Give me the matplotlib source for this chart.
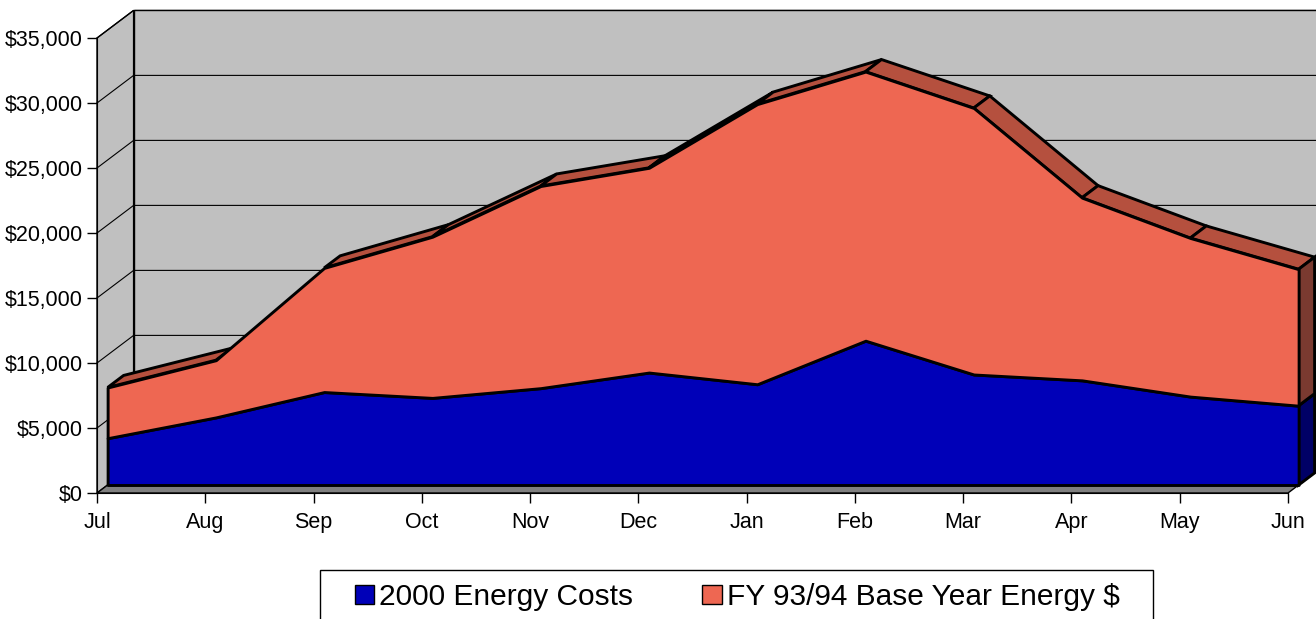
import matplotlib.pyplot as plt
import numpy as np
from matplotlib.patches import Patch, Polygon, Rectangle

plt.rcParams["font.family"] = ["Liberation Sans", "DejaVu Sans"]

months = ["Jul", "Aug", "Sep", "Oct", "Nov", "Dec", "Jan", "Feb", "Mar", "Apr", "May", "Jun"]
costs_2000 = [3600, 5200, 7150, 6700, 7450, 8650, 7750, 11100, 8500, 8050, 6800, 6100]
base_year = [3900, 4400, 9550, 12400, 15550, 15750, 21550, 20700, 20500, 14050, 12200, 10500]
y_ticks = np.arange(0, 35001, 5000)
y_labels = [f"${v:,}" for v in y_ticks]
series_names = ["2000 Energy Costs", "FY 93/94 Base Year Energy $"]

W, H = 1316, 619
fig = plt.figure(figsize=(W / 100, H / 100), dpi=100)
ax = fig.add_axes([97 / W, 1 - 493 / H, 1191 / W, 455 / H])
n = len(months)
ax.set_xlim(0, n - 1)
ax.set_ylim(0, y_ticks[-1])
ax.patch.set_visible(False)
for side in ["top", "right"]:
    ax.spines[side].set_visible(False)
ax.set_xticks(range(n), months)
ax.set_yticks(y_ticks, y_labels)
ax.tick_params(direction="out", length=7, width=1, labelsize=15.5)
ax.tick_params(axis="x", pad=7)
ax.tick_params(axis="y", pad=3)

# oblique "3-D" depth offset in data units (36.6 px right, 27.6 px up)
px_x = 1191 / (n - 1)
px_y = 455 / y_ticks[-1]
DX = 36.6 / px_x
DY = 27.6 / px_y
F1, F2 = 0.29, 0.727  # front / back of the area slab
top = y_ticks[-1]
last = n - 1
LW = 2.1


def pt(x, v, f):
    return (x + f * DX, v + f * DY)


def poly(points, fc, lw, z):
    ax.add_patch(Polygon(points, closed=True, facecolor=fc, edgecolor="black",
                         linewidth=lw, zorder=z, clip_on=False))


# walls and floor
poly([pt(0, 0, 1), pt(last, 0, 1), pt(last, top, 1), pt(0, top, 1)], "#C0C0C0", 1.0, 1)
poly([pt(0, 0, 0), pt(0, 0, 1), pt(0, top, 1), pt(0, top, 0)], "#C0C0C0", 1.0, 1)
poly([pt(0, 0, 0), pt(last, 0, 0), pt(last, 0, 1), pt(0, 0, 1)], "#808080", 1.0, 1)
for v in y_ticks[1:]:
    ax.plot([0, DX, last + DX], [v, v + DY, v + DY], color="black", lw=0.8,
            zorder=2, clip_on=False)

blue = np.array(costs_2000, dtype=float)
total = blue + np.array(base_year, dtype=float)
x = np.arange(n)

# top strips of the stacked area (only the ones facing the viewer)
for i in range(n - 1):
    slope = (total[i + 1] - total[i]) * px_y / px_x
    if slope < 27.6 / 36.6:
        poly([pt(i, total[i], F1), pt(i + 1, total[i + 1], F1),
              pt(i + 1, total[i + 1], F2), pt(i, total[i], F2)], "#B5503E", LW, 4)

# right end faces
poly([pt(last, 0, F1), pt(last, 0, F2), pt(last, blue[-1], F2), pt(last, blue[-1], F1)],
     "#000066", LW, 4)
poly([pt(last, blue[-1], F1), pt(last, blue[-1], F2), pt(last, total[-1], F2),
      pt(last, total[-1], F1)], "#7A3A30", LW, 4)

# front faces
xf = x + F1 * DX
ax.fill_between(xf, F1 * DY, blue + F1 * DY, facecolor="#0000B8", edgecolor="black",
                linewidth=LW, zorder=5, clip_on=False)
ax.fill_between(xf, blue + F1 * DY, total + F1 * DY, facecolor="#EE6752",
                edgecolor="black", linewidth=LW, zorder=5, clip_on=False)

# legend
fig.patches.append(Rectangle((320 / W, -0.05), 833 / W, 1 - 570 / H + 0.05,
                             transform=fig.transFigure, facecolor="white",
                             edgecolor="black", linewidth=1.0))
handles = [Patch(facecolor="#0000B8", edgecolor="black"),
           Patch(facecolor="#EE6752", edgecolor="black")]
fig.legend(handles, series_names, loc="center left",
           bbox_to_anchor=(355 / W, 1 - 597 / H), ncol=2, frameon=False,
           borderpad=0, borderaxespad=0, fontsize=21.5, handlelength=0.65,
           handleheight=0.65, handletextpad=0.17, columnspacing=2.3)

fig.savefig("out.png", dpi=100)
